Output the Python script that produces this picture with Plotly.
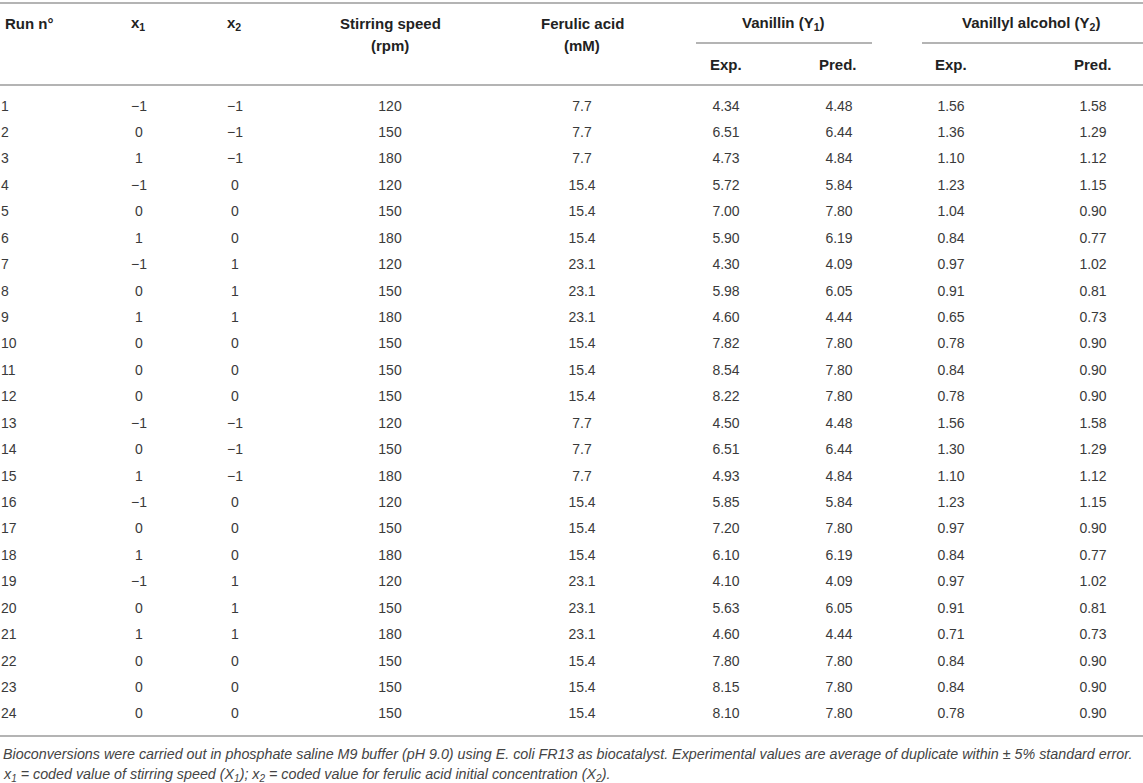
import plotly.graph_objects as go

# table data
run_no = list(range(1, 25))
x1 = [-1, 0, 1, -1, 0, 1, -1, 0, 1, 0, 0, 0, -1, 0, 1, -1, 0, 1, -1, 0, 1, 0, 0, 0]
x2 = [-1, -1, -1, 0, 0, 0, 1, 1, 1, 0, 0, 0, -1, -1, -1, 0, 0, 0, 1, 1, 1, 0, 0, 0]
stirring_speed = [120, 150, 180, 120, 150, 180, 120, 150, 180, 150, 150, 150,
                  120, 150, 180, 120, 150, 180, 120, 150, 180, 150, 150, 150]
ferulic_acid = [7.7, 7.7, 7.7, 15.4, 15.4, 15.4, 23.1, 23.1, 23.1, 15.4, 15.4, 15.4,
                7.7, 7.7, 7.7, 15.4, 15.4, 15.4, 23.1, 23.1, 23.1, 15.4, 15.4, 15.4]
vanillin_exp = [4.34, 6.51, 4.73, 5.72, 7.00, 5.90, 4.30, 5.98, 4.60, 7.82, 8.54, 8.22,
                4.50, 6.51, 4.93, 5.85, 7.20, 6.10, 4.10, 5.63, 4.60, 7.80, 8.15, 8.10]
vanillin_pred = [4.48, 6.44, 4.84, 5.84, 7.80, 6.19, 4.09, 6.05, 4.44, 7.80, 7.80, 7.80,
                 4.48, 6.44, 4.84, 5.84, 7.80, 6.19, 4.09, 6.05, 4.44, 7.80, 7.80, 7.80]
alcohol_exp = [1.56, 1.36, 1.10, 1.23, 1.04, 0.84, 0.97, 0.91, 0.65, 0.78, 0.84, 0.78,
               1.56, 1.30, 1.10, 1.23, 0.97, 0.84, 0.97, 0.91, 0.71, 0.84, 0.84, 0.78]
alcohol_pred = [1.58, 1.29, 1.12, 1.15, 0.90, 0.77, 1.02, 0.81, 0.73, 0.90, 0.90, 0.90,
                1.58, 1.29, 1.12, 1.15, 0.90, 0.77, 1.02, 0.81, 0.73, 0.90, 0.90, 0.90]

footnote_1 = ("Bioconversions were carried out in phosphate saline M9 buffer (pH 9.0) using E. coli FR13 "
              "as biocatalyst. Experimental values are average of duplicate within \u00b1 5% standard error.")
footnote_2 = ("x<sub>1</sub> = coded value of stirring speed (X<sub>1</sub>); "
              "x<sub>2</sub> = coded value for ferulic acid initial concentration (X<sub>2</sub>).")

W, H = 1143, 783
FONT = "Liberation Sans, Arial, sans-serif"
TXT = "#3a3a3a"
LINE = "#b4b4b4"

first_row_y = 107
row_h = 26.43
row_y = [first_row_y + i * row_h for i in range(len(run_no))]


def coded(v):
    return "\u2212" + str(-v) if v < 0 else str(v)


# (values, x position, text position)
columns = [
    ([str(r) for r in run_no], 1, "middle right"),
    ([coded(v) for v in x1], 139, "middle center"),
    ([coded(v) for v in x2], 235, "middle center"),
    ([str(v) for v in stirring_speed], 390, "middle center"),
    (["%.1f" % v for v in ferulic_acid], 582, "middle center"),
    (["%.2f" % v for v in vanillin_exp], 726, "middle center"),
    (["%.2f" % v for v in vanillin_pred], 839, "middle center"),
    (["%.2f" % v for v in alcohol_exp], 951, "middle center"),
    (["%.2f" % v for v in alcohol_pred], 1093, "middle center"),
]

fig = go.Figure()
for vals, xpos, tpos in columns:
    fig.add_trace(go.Scatter(
        x=[xpos] * len(vals), y=row_y, text=vals, mode="text",
        textposition=tpos, textfont=dict(family=FONT, size=14, color=TXT),
        hoverinfo="skip", showlegend=False,
    ))

# header labels
headers = [
    ("Run n\u00b0", 3, 23, "left"),
    ("x<sub>1</sub>", 138, 23, "center"),
    ("x<sub>2</sub>", 234, 23, "center"),
    ("Stirring speed", 390, 23, "center"),
    ("(rpm)", 390, 45, "center"),
    ("Ferulic acid", 582, 23, "center"),
    ("(mM)", 582, 45, "center"),
    ("Vanillin (Y<sub>1</sub>)", 783, 23, "center"),
    ("Vanillyl alcohol (Y<sub>2</sub>)", 1031, 23, "center"),
    ("Exp.", 726, 64, "center"),
    ("Pred.", 838, 64, "center"),
    ("Exp.", 951, 64, "center"),
    ("Pred.", 1093, 64, "center"),
]
for text, xpos, ypos, anchor in headers:
    fig.add_annotation(x=xpos, y=ypos, xref="x", yref="y", text="<b>%s</b>" % text,
                       showarrow=False, xanchor=anchor, yanchor="middle",
                       font=dict(family=FONT, size=15, color="#222222"))

for i, note in enumerate([footnote_1, footnote_2]):
    fig.add_annotation(x=1, y=754 + i * 21, xref="x", yref="y", text="<i>%s</i>" % note,
                       showarrow=False, xanchor="left", yanchor="middle",
                       font=dict(family=FONT, size=14.3, color="#444444"))

# rules
rules = [(0, W, 3), (0, W, 85), (696, 872, 43), (922, W, 43), (0, W, 736)]
for xa, xb, yy in rules:
    fig.add_shape(type="line", x0=xa, x1=xb, y0=yy, y1=yy, xref="x", yref="y",
                  line=dict(color=LINE, width=2))

fig.update_layout(
    width=W, height=H,
    margin=dict(l=0, r=0, t=0, b=0),
    paper_bgcolor="white", plot_bgcolor="white",
    xaxis=dict(range=[0, W], visible=False, fixedrange=True),
    yaxis=dict(range=[H, 0], visible=False, fixedrange=True),
)

fig.write_html("out.html", config={"displayModeBar": False},
               post_script="document.body.style.margin='0';document.body.style.overflow='hidden';")
